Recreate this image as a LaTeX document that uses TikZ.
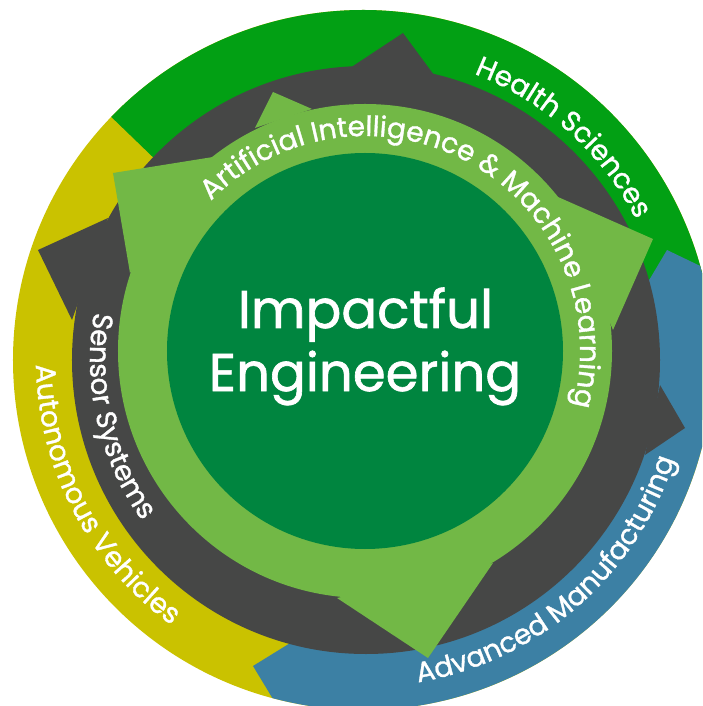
\documentclass[tikz,border=0pt]{standalone}
\usepackage{fontspec}
\setmainfont{Poppins}[FakeBold=1.2]
\usetikzlibrary{decorations.text}
\definecolor{hsgreen}{HTML}{02A014}
\definecolor{avyellow}{HTML}{CAC200}
\definecolor{amblue}{HTML}{3C80A4}
\definecolor{ssgray}{HTML}{464746}
\definecolor{aigreen}{HTML}{72B846}
\definecolor{iegreen}{HTML}{00853F}
\tikzset{arclabel/.style={decorate,decoration={text along path,text align=center,
        text color=white,text={|\fontsize{28}{28}\selectfont|#1}}},
        title/.style={text=white,font=\fontsize{53}{53}\selectfont,inner sep=0pt}}

\begin{document}
\begin{tikzpicture}[x=1pt,y=1pt]
  \useasboundingbox (-363,-346) rectangle (339,360);
  \clip (-363,-346) rectangle (339,360);
  \fill[avyellow] (0,0) circle[radius=350];
  \fill[hsgreen] (0,0) -- (-10:350) arc[start angle=-10,end angle=136,radius=350] -- cycle;
  \fill[amblue] (3,0) -- (-42,-264) -- (-110,-306) -- (255:350)
     arc[start angle=255,end angle=375.6,radius=350] -- (304,110) -- (266,46) -- cycle;
  \fill[ssgray] (3,0) circle[radius=294];
  \fill[ssgray] (-13,292) -- (40,327) -- (71,285) -- cycle;
  \fill[ssgray] (297,-25) -- (322,-68) -- (282,-95) -- cycle;
  \fill[ssgray] (-255,142) -- (-325,110) -- (-291,40) -- cycle;
  \fill[aigreen] (2,9) circle[radius=247];
  \fill[aigreen] (-150,203) -- (-250,187) -- (-233,87) -- cycle;
  \fill[aigreen] (-108,232) -- (-90,268) -- (-51,251) -- cycle;
  \fill[aigreen] (195,163) -- (290,121) -- (250,30) -- cycle;
  \fill[aigreen] (130,-203) -- (65,-298) -- (-26,-238) -- cycle;
  \fill[iegreen] (2,9) circle[radius=198];
  \path[arclabel={Health Sciences}] (95:307) arc[start angle=95,end angle=1,radius=307];
  \path[shift={(2,9)},arclabel={Artificial Intelligence {\&} Machine Learning}]
     (150.5:215) arc[start angle=150.5,end angle=-29.5,radius=215];
  \path[arclabel={Sensor Systems}] (158:273) arc[start angle=158,end angle=228,radius=273];
  \path[arclabel={Autonomous Vehicles}] (165:327) arc[start angle=165,end angle=250,radius=327];
  \path[arclabel={Advanced Manufacturing}] (261:327) arc[start angle=261,end angle=361,radius=327];
  \node[title,anchor=base] (impactful) at (2.5,32) {Impactful};
  \node[title,anchor=base] (engineering) at (2,-31) {Engineering};
\end{tikzpicture}
\end{document}
